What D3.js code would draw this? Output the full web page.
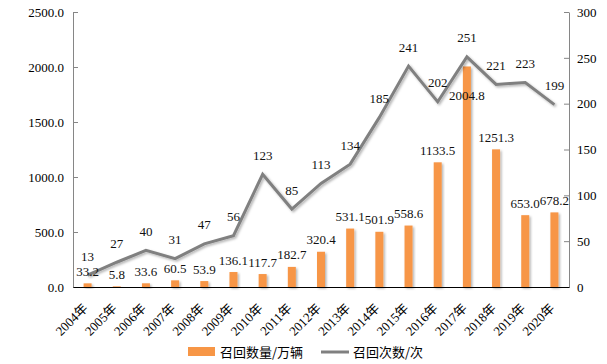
<!DOCTYPE html>
<html>
<head>
<meta charset="utf-8">
<script src="https://cdn.jsdelivr.net/npm/d3@7"></script>
<style>
  body { margin: 0; background: #fff; }
  svg text { font-family: "Liberation Serif", "Noto Sans CJK SC", serif; }
  .legend text { font-family: "Noto Sans CJK SC", sans-serif; }
</style>
</head>
<body>
<div id="canvas"></div>
<script>
var years = ['2004年','2005年','2006年','2007年','2008年','2009年','2010年','2011年','2012年',
             '2013年','2014年','2015年','2016年','2017年','2018年','2019年','2020年'];
var recallQty = [33.2, 5.8, 33.6, 60.5, 53.9, 136.1, 117.7, 182.7, 320.4,
                 531.1, 501.9, 558.6, 1133.5, 2004.8, 1251.3, 653.0, 678.2];
var recallCount = [13, 27, 40, 31, 47, 56, 123, 85, 113, 134, 185, 241, 202, 251, 221, 223, 199];
var leftTicks = [0, 500, 1000, 1500, 2000, 2500];
var rightTicks = [0, 50, 100, 150, 200, 250, 300];

var W = 607, H = 364;
var m = {t: 12, r: 38, b: 77, l: 73};
var w = W - m.l - m.r,
    h = H - m.t - m.b;

var svg = d3.select('#canvas').append('svg')
    .attr('width', W).attr('height', H);

var defs = svg.append('defs');
defs.append('filter').attr('id', 'shadow')
    .attr('x', '-20%').attr('y', '-20%').attr('width', '160%').attr('height', '160%')
  .append('feDropShadow')
    .attr('dx', 1.5).attr('dy', 1.5).attr('stdDeviation', 1)
    .attr('flood-color', '#000').attr('flood-opacity', 0.3);

var plot = svg.append('g').attr('transform', 'translate(' + m.l + ',' + m.t + ')');

var x = d3.scaleBand().domain(years).range([0, w]);
var yL = d3.scaleLinear().domain([0, 2500]).range([h, 0]);
var yR = d3.scaleLinear().domain([0, 300]).range([h, 0]);

// axes
var axisL = d3.axisLeft(yL).tickValues(leftTicks).tickFormat(d3.format('.1f'))
    .tickSizeInner(-5).tickSizeOuter(0).tickPadding(9);
var gL = plot.append('g').attr('class', 'axis').call(axisL);

var axisR = d3.axisRight(yR).tickValues(rightTicks)
    .tickSizeInner(-5).tickSizeOuter(0).tickPadding(8);
var gR = plot.append('g').attr('class', 'axis')
    .attr('transform', 'translate(' + w + ',0)').call(axisR);

[gL, gR].forEach(function(g) {
  g.select('.domain').attr('stroke', '#868686');
  g.selectAll('.tick line').attr('stroke', '#868686');
  g.selectAll('.tick text').attr('fill', '#000').style('font-size', '13px');
});

// bars
var bw = 8;
plot.selectAll('rect.bar')
  .data(recallQty)
  .enter().append('rect')
    .attr('class', 'bar')
    .attr('x', function(d, i) { return x(years[i]) + x.bandwidth() / 2 - bw / 2; })
    .attr('y', function(d) { return yL(d); })
    .attr('width', bw)
    .attr('height', function(d) { return h - yL(d); })
    .attr('fill', '#F79646')
    .attr('filter', 'url(#shadow)');

// x axis
var axisX = d3.axisBottom(x).tickSize(0).tickPadding(6);
var gX = plot.append('g').attr('transform', 'translate(0,' + h + ')').call(axisX);
gX.select('.domain').attr('stroke', '#000');
gX.selectAll('.tick text')
    .attr('fill', '#000')
    .style('font-size', '13px')
    .attr('text-anchor', 'end')
    .attr('dy', 0)
    .attr('transform', 'translate(1,22) rotate(-45)')
    .attr('y', 0).attr('x', 0);

// line
var line = d3.line()
    .x(function(d, i) { return x(years[i]) + x.bandwidth() / 2; })
    .y(function(d) { return yR(d); });

plot.append('path')
    .datum(recallCount)
    .attr('d', line)
    .attr('fill', 'none')
    .attr('stroke', '#808080')
    .attr('stroke-width', 3)
    .attr('stroke-linejoin', 'miter')
    .attr('filter', 'url(#shadow)');

// bar labels (the 2017 one sits inside the bar, below the line)
plot.selectAll('text.barlab')
  .data(recallQty)
  .enter().append('text')
    .attr('class', 'barlab')
    .attr('x', function(d, i) { return x(years[i]) + x.bandwidth() / 2; })
    .attr('y', function(d, i) { return yL(d) + (i === 13 ? 34 : -7.5); })
    .attr('text-anchor', 'middle')
    .style('font-size', '13px')
    .attr('fill', '#111')
    .text(function(d) { return d.toFixed(1); });

// line labels
plot.selectAll('text.linelab')
  .data(recallCount)
  .enter().append('text')
    .attr('class', 'linelab')
    .attr('x', function(d, i) { return x(years[i]) + x.bandwidth() / 2; })
    .attr('y', function(d) { return yR(d) - 14.5; })
    .attr('text-anchor', 'middle')
    .style('font-size', '13px')
    .attr('fill', '#111')
    .text(function(d) { return d; });

// legend
var lg = svg.append('g').attr('class', 'legend');
lg.append('rect').attr('x', 188).attr('y', 347).attr('width', 27).attr('height', 9)
    .attr('fill', '#F79646');
lg.append('text').attr('x', 220).attr('y', 356.5).style('font-size', '13px')
    .attr('fill', '#000').text('召回数量/万辆');
lg.append('line').attr('x1', 321).attr('x2', 349).attr('y1', 352).attr('y2', 352)
    .attr('stroke', '#808080').attr('stroke-width', 3);
lg.append('text').attr('x', 353).attr('y', 356.5).style('font-size', '13px')
    .attr('fill', '#000').text('召回次数/次');
</script>
</body>
</html>
